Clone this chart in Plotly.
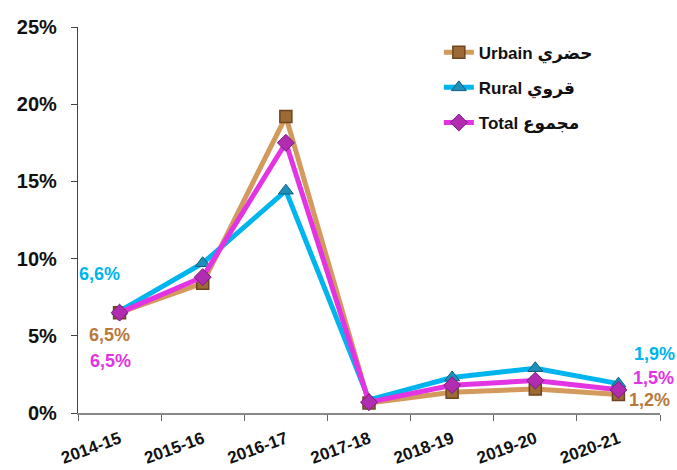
import plotly.graph_objects as go

categories = ["2014-15", "2015-16", "2016-17", "2017-18", "2018-19", "2019-20", "2020-21"]
urbain = [6.5, 8.4, 19.2, 0.65, 1.35, 1.55, 1.2]
rural = [6.6, 9.7, 14.4, 0.85, 2.3, 2.9, 1.9]
total = [6.5, 8.8, 17.5, 0.7, 1.8, 2.1, 1.5]
names = ["Urbain حضري", "Rural قروي", "Total مجموع"]
y_ticks = [0, 5, 10, 15, 20, 25]

c_urb_line = "#D39A5E"
c_urb_txt = "#B8793A"
c_rur = "#00B4EE"
c_tot = "#E234E2"

FONT = "Liberation Sans, Arial, DejaVu Sans, sans-serif"

fig = go.Figure()
fig.add_trace(go.Scatter(x=categories, y=urbain, name=names[0], mode="lines+markers",
                         line=dict(color=c_urb_line, width=5),
                         marker=dict(symbol="square", size=12, color="#9C6A36",
                                     line=dict(color="#6E4520", width=1.5)),
                         legendgroup="a"))
fig.add_trace(go.Scatter(x=categories, y=rural, name=names[1], mode="lines+markers",
                         line=dict(color=c_rur, width=5),
                         marker=dict(symbol="triangle-up", size=13, color="#1E8FB8",
                                     line=dict(color="#0E5E80", width=1)),
                         legendgroup="b"))
fig.add_trace(go.Scatter(x=categories, y=total, name=names[2], mode="lines+markers",
                         line=dict(color=c_tot, width=5),
                         marker=dict(symbol="diamond", size=13, color="#B22CB2",
                                     line=dict(color="#7A1A7A", width=1)),
                         legendgroup="c"))

def fmt(v):
    return f"{v:.1f}".replace(".", ",") + "%"

ann = [
    (categories[0], rural[0], fmt(rural[0]), c_rur, -20, 37),
    (categories[0], urbain[0], fmt(urbain[0]), c_urb_txt, -10, -22),
    (categories[0], total[0], fmt(total[0]), c_tot, -9, -48),
    (categories[-1], rural[-1], fmt(rural[-1]), c_rur, 36, 30),
    (categories[-1], total[-1], fmt(total[-1]), c_tot, 35, 12),
    (categories[-1], urbain[-1], fmt(urbain[-1]), c_urb_txt, 31, -6),
]
for x, y, t, c, dx, dy in ann:
    fig.add_annotation(x=x, y=y, text=f"<b>{t}</b>", showarrow=False,
                       xshift=dx, yshift=dy, font=dict(size=18, color=c, family=FONT))

fig.update_layout(
    width=677, height=470,
    margin=dict(l=78, r=17, t=27, b=57),
    paper_bgcolor="white", plot_bgcolor="white",
    font=dict(family=FONT, color="#222222"),
    showlegend=True,
    legend=dict(x=0.62, y=0.98, xanchor="left", yanchor="top",
                font=dict(size=17, family=FONT, color="#111111", weight="bold"),
                tracegroupgap=10, bgcolor="rgba(0,0,0,0)"),
    xaxis=dict(type="category", showgrid=False, showline=True, linecolor="#888888",
               linewidth=1.5, ticks="outside", tickson="boundaries", ticklen=6,
               tickcolor="#666666", tickangle=-20, automargin=False,
               ticklabelstandoff=8,
               tickfont=dict(size=17, family=FONT, color="#111111", weight="bold"),
               range=[-0.5, 6.5]),
    yaxis=dict(range=[0, 25], tickvals=y_ticks, ticktext=[f"{v}%" for v in y_ticks],
               showgrid=False, zeroline=False, showline=True, linecolor="#444444",
               linewidth=1.2, ticks="outside", ticklen=6, tickcolor="#444444",
               ticklabelstandoff=10, automargin=False,
               tickfont=dict(size=20, family=FONT, color="#111111", weight="bold")),
)

fig.write_html("out.html", config={"displayModeBar": False},
               post_script="document.body.style.margin='0';")
